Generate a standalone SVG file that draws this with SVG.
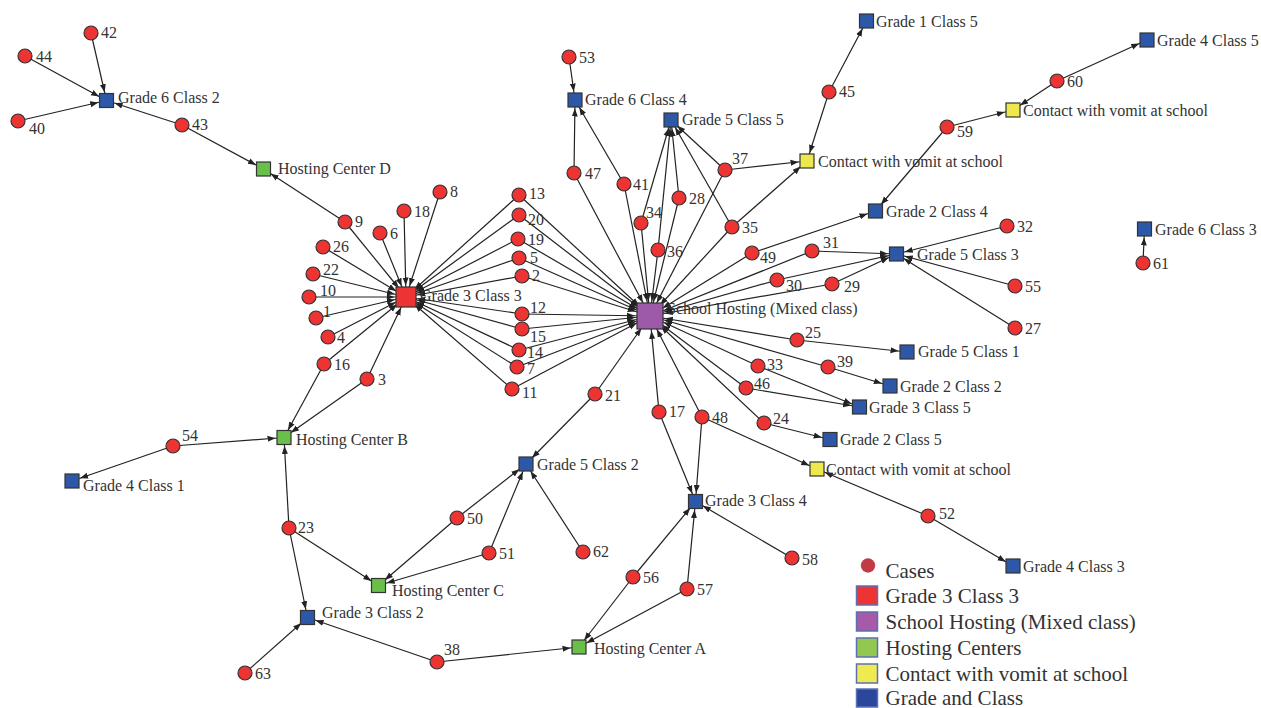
<svg xmlns="http://www.w3.org/2000/svg" width="1261" height="708" viewBox="0 0 1261 708">
<style>
text{font-family:"Liberation Serif","Times New Roman",serif;font-size:16px;fill:#333}
.c{fill:#ee3333;stroke:#333;stroke-width:1.2}
.b{fill:#2d58a7;stroke:#333;stroke-width:1.2}
.gr{fill:#6abf4b;stroke:#333;stroke-width:1.2}
.y{fill:#ece84e;stroke:#333;stroke-width:1.2}
.r{fill:#ee3333;stroke:#333;stroke-width:1.2}
.p{fill:#9c5aa8;stroke:#333;stroke-width:1.2}
#connectors line{stroke:#222;stroke-width:1.2;fill:none}
.s{marker-end:url(#m1)}
.g{marker-end:url(#m2)}
.h{marker-end:url(#m3)}
.lg text{font-size:21px}
.lb{stroke:#5b70b4;stroke-width:1.5}
</style>
<defs>
<marker id="m1" viewBox="0 0 30 8" refX="16.5" refY="4" markerWidth="30" markerHeight="8" orient="auto" markerUnits="userSpaceOnUse"><path d="M0,1 L8,4 L0,7 z" fill="#222"/></marker>
<marker id="m2" viewBox="0 0 30 8" refX="19.5" refY="4" markerWidth="30" markerHeight="8" orient="auto" markerUnits="userSpaceOnUse"><path d="M0,1 L8,4 L0,7 z" fill="#222"/></marker>
<marker id="m3" viewBox="0 0 30 8" refX="23" refY="4" markerWidth="30" markerHeight="8" orient="auto" markerUnits="userSpaceOnUse"><path d="M0,1 L8,4 L0,7 z" fill="#222"/></marker>
</defs>
<rect width="1261" height="708" fill="#fff"/>
<g id="connectors">
<line class="s" x1="91" y1="33" x2="106.5" y2="100.5"/>
<line class="s" x1="25" y1="56" x2="106.5" y2="100.5"/>
<line class="s" x1="18" y1="121" x2="106.5" y2="100.5"/>
<line class="s" x1="182" y1="125" x2="106.5" y2="100.5"/>
<line class="s" x1="182" y1="125" x2="263.5" y2="169"/>
<line class="s" x1="345" y1="222" x2="263.5" y2="169"/>
<line class="g" x1="345" y1="222" x2="406" y2="297"/>
<line class="g" x1="404" y1="211" x2="406" y2="297"/>
<line class="g" x1="440" y1="192" x2="406" y2="297"/>
<line class="g" x1="380" y1="233" x2="406" y2="297"/>
<line class="g" x1="323" y1="247" x2="406" y2="297"/>
<line class="g" x1="313" y1="274" x2="406" y2="297"/>
<line class="g" x1="309" y1="297" x2="406" y2="297"/>
<line class="g" x1="316" y1="318" x2="406" y2="297"/>
<line class="g" x1="328" y1="337" x2="406" y2="297"/>
<line class="g" x1="324" y1="364" x2="406" y2="297"/>
<line class="g" x1="367" y1="379" x2="406" y2="297"/>
<line class="g" x1="519" y1="195" x2="406" y2="297"/>
<line class="g" x1="519" y1="215" x2="406" y2="297"/>
<line class="g" x1="518" y1="239" x2="406" y2="297"/>
<line class="g" x1="519" y1="258" x2="406" y2="297"/>
<line class="g" x1="522" y1="276" x2="406" y2="297"/>
<line class="g" x1="522" y1="314" x2="406" y2="297"/>
<line class="g" x1="522" y1="329" x2="406" y2="297"/>
<line class="g" x1="519" y1="350" x2="406" y2="297"/>
<line class="g" x1="517" y1="367" x2="406" y2="297"/>
<line class="g" x1="512" y1="389" x2="406" y2="297"/>
<line class="h" x1="519" y1="195" x2="650" y2="316"/>
<line class="h" x1="519" y1="215" x2="650" y2="316"/>
<line class="h" x1="518" y1="239" x2="650" y2="316"/>
<line class="h" x1="519" y1="258" x2="650" y2="316"/>
<line class="h" x1="522" y1="276" x2="650" y2="316"/>
<line class="h" x1="522" y1="314" x2="650" y2="316"/>
<line class="h" x1="522" y1="329" x2="650" y2="316"/>
<line class="h" x1="519" y1="350" x2="650" y2="316"/>
<line class="h" x1="517" y1="367" x2="650" y2="316"/>
<line class="h" x1="512" y1="389" x2="650" y2="316"/>
<line class="h" x1="574" y1="173" x2="650" y2="316"/>
<line class="h" x1="624" y1="184" x2="650" y2="316"/>
<line class="h" x1="641" y1="223" x2="650" y2="316"/>
<line class="h" x1="658" y1="250" x2="650" y2="316"/>
<line class="h" x1="679" y1="198" x2="650" y2="316"/>
<line class="h" x1="725" y1="170" x2="650" y2="316"/>
<line class="h" x1="732" y1="227" x2="650" y2="316"/>
<line class="h" x1="752" y1="253" x2="650" y2="316"/>
<line class="h" x1="812" y1="251" x2="650" y2="316"/>
<line class="h" x1="777" y1="280" x2="650" y2="316"/>
<line class="h" x1="832" y1="284" x2="650" y2="316"/>
<line class="h" x1="797" y1="340" x2="650" y2="316"/>
<line class="h" x1="828" y1="367" x2="650" y2="316"/>
<line class="h" x1="758" y1="366" x2="650" y2="316"/>
<line class="h" x1="746" y1="388" x2="650" y2="316"/>
<line class="h" x1="764" y1="423" x2="650" y2="316"/>
<line class="h" x1="702" y1="417" x2="650" y2="316"/>
<line class="h" x1="659" y1="412" x2="650" y2="316"/>
<line class="h" x1="595" y1="394" x2="650" y2="316"/>
<line class="s" x1="569" y1="57" x2="575" y2="100"/>
<line class="s" x1="574" y1="173" x2="575" y2="100"/>
<line class="s" x1="624" y1="184" x2="575" y2="100"/>
<line class="s" x1="641" y1="223" x2="671" y2="120"/>
<line class="s" x1="658" y1="250" x2="671" y2="120"/>
<line class="s" x1="679" y1="198" x2="671" y2="120"/>
<line class="s" x1="725" y1="170" x2="671" y2="120"/>
<line class="s" x1="732" y1="227" x2="671" y2="120"/>
<line class="s" x1="725" y1="170" x2="807" y2="161"/>
<line class="s" x1="732" y1="227" x2="807" y2="161"/>
<line class="s" x1="829" y1="92" x2="807" y2="161"/>
<line class="s" x1="829" y1="92" x2="866.5" y2="21"/>
<line class="s" x1="947" y1="127" x2="1013" y2="110"/>
<line class="s" x1="1057" y1="81" x2="1013" y2="110"/>
<line class="s" x1="1057" y1="81" x2="1147" y2="40"/>
<line class="s" x1="752" y1="253" x2="875.5" y2="211"/>
<line class="s" x1="947" y1="127" x2="875.5" y2="211"/>
<line class="s" x1="812" y1="251" x2="896.5" y2="254"/>
<line class="s" x1="777" y1="280" x2="896.5" y2="254"/>
<line class="s" x1="832" y1="284" x2="896.5" y2="254"/>
<line class="s" x1="1007" y1="226" x2="896.5" y2="254"/>
<line class="s" x1="1015" y1="286" x2="896.5" y2="254"/>
<line class="s" x1="1015" y1="328" x2="896.5" y2="254"/>
<line class="s" x1="1143" y1="263" x2="1144.5" y2="229"/>
<line class="s" x1="797" y1="340" x2="907" y2="352"/>
<line class="s" x1="828" y1="367" x2="890" y2="386"/>
<line class="s" x1="758" y1="366" x2="859.5" y2="407"/>
<line class="s" x1="746" y1="388" x2="859.5" y2="407"/>
<line class="s" x1="764" y1="423" x2="830" y2="439.5"/>
<line class="s" x1="702" y1="417" x2="817" y2="469"/>
<line class="s" x1="928" y1="516" x2="817" y2="469"/>
<line class="s" x1="928" y1="516" x2="1013" y2="566"/>
<line class="s" x1="702" y1="417" x2="695.5" y2="501.5"/>
<line class="s" x1="659" y1="412" x2="695.5" y2="501.5"/>
<line class="s" x1="633" y1="577" x2="695.5" y2="501.5"/>
<line class="s" x1="687" y1="589" x2="695.5" y2="501.5"/>
<line class="s" x1="792" y1="558" x2="695.5" y2="501.5"/>
<line class="s" x1="595" y1="394" x2="526" y2="464"/>
<line class="s" x1="457" y1="518" x2="526" y2="464"/>
<line class="s" x1="489" y1="553" x2="526" y2="464"/>
<line class="s" x1="583" y1="552" x2="526" y2="464"/>
<line class="s" x1="324" y1="364" x2="284" y2="437.5"/>
<line class="s" x1="367" y1="379" x2="284" y2="437.5"/>
<line class="s" x1="173" y1="446" x2="284" y2="437.5"/>
<line class="s" x1="289" y1="528" x2="284" y2="437.5"/>
<line class="s" x1="173" y1="446" x2="72" y2="481"/>
<line class="s" x1="289" y1="528" x2="378.5" y2="585.5"/>
<line class="s" x1="457" y1="518" x2="378.5" y2="585.5"/>
<line class="s" x1="489" y1="553" x2="378.5" y2="585.5"/>
<line class="s" x1="289" y1="528" x2="307.5" y2="617.5"/>
<line class="s" x1="437" y1="662" x2="307.5" y2="617.5"/>
<line class="s" x1="245" y1="673" x2="307.5" y2="617.5"/>
<line class="s" x1="437" y1="662" x2="579" y2="647"/>
<line class="s" x1="633" y1="577" x2="579" y2="647"/>
<line class="s" x1="687" y1="589" x2="579" y2="647"/>
</g>
<g id="n-g6c2"><rect class="b" x="99.5" y="93.5" width="14" height="14"/><text x="118" y="103">Grade 6 Class 2</text></g>
<g id="n-hcd"><rect class="gr" x="256.5" y="162" width="14" height="14"/><text x="278" y="174">Hosting Center D</text></g>
<g id="n-g3c3"><rect class="r" x="396" y="287" width="20" height="20"/><text x="420" y="301">Grade 3 Class 3</text></g>
<g id="n-sh"><rect class="p" x="637" y="303" width="26" height="26"/><text x="667" y="314">School Hosting (Mixed class)</text></g>
<g id="n-g6c4"><rect class="b" x="568" y="93" width="14" height="14"/><text x="585" y="105">Grade 6 Class 4</text></g>
<g id="n-g5c5"><rect class="b" x="664" y="113" width="14" height="14"/><text x="682" y="125">Grade 5 Class 5</text></g>
<g id="n-g1c5"><rect class="b" x="859.5" y="14" width="14" height="14"/><text x="876" y="27">Grade 1 Class 5</text></g>
<g id="n-cv1"><rect class="y" x="800" y="154" width="14" height="14"/><text x="818" y="167">Contact with vomit at school</text></g>
<g id="n-cv2"><rect class="y" x="1006" y="103" width="14" height="14"/><text x="1023" y="116">Contact with vomit at school</text></g>
<g id="n-g4c5"><rect class="b" x="1140" y="33" width="14" height="14"/><text x="1157" y="46">Grade 4 Class 5</text></g>
<g id="n-g2c4"><rect class="b" x="868.5" y="204" width="14" height="14"/><text x="886" y="217">Grade 2 Class 4</text></g>
<g id="n-g5c3"><rect class="b" x="889.5" y="247" width="14" height="14"/><text x="917" y="260">Grade 5 Class 3</text></g>
<g id="n-g6c3"><rect class="b" x="1137.5" y="222" width="14" height="14"/><text x="1155" y="235">Grade 6 Class 3</text></g>
<g id="n-g5c1"><rect class="b" x="900" y="345" width="14" height="14"/><text x="918" y="357">Grade 5 Class 1</text></g>
<g id="n-g2c2"><rect class="b" x="883" y="379" width="14" height="14"/><text x="900" y="392">Grade 2 Class 2</text></g>
<g id="n-g3c5"><rect class="b" x="852.5" y="400" width="14" height="14"/><text x="869" y="413">Grade 3 Class 5</text></g>
<g id="n-g2c5"><rect class="b" x="823" y="432.5" width="14" height="14"/><text x="840" y="445">Grade 2 Class 5</text></g>
<g id="n-cv3"><rect class="y" x="810" y="462" width="14" height="14"/><text x="826" y="475">Contact with vomit at school</text></g>
<g id="n-g3c4"><rect class="b" x="688.5" y="494.5" width="14" height="14"/><text x="705" y="506">Grade 3 Class 4</text></g>
<g id="n-g5c2"><rect class="b" x="519" y="457" width="14" height="14"/><text x="537" y="470">Grade 5 Class 2</text></g>
<g id="n-hcb"><rect class="gr" x="277" y="430.5" width="14" height="14"/><text x="296" y="445">Hosting Center B</text></g>
<g id="n-g4c1"><rect class="b" x="65" y="474" width="14" height="14"/><text x="83" y="491">Grade 4 Class 1</text></g>
<g id="n-hcc"><rect class="gr" x="371.5" y="578.5" width="14" height="14"/><text x="392" y="596">Hosting Center C</text></g>
<g id="n-g3c2"><rect class="b" x="300.5" y="610.5" width="14" height="14"/><text x="322" y="618">Grade 3 Class 2</text></g>
<g id="n-hca"><rect class="gr" x="572" y="640" width="14" height="14"/><text x="594" y="654">Hosting Center A</text></g>
<g id="n-g4c3"><rect class="b" x="1006" y="559" width="14" height="14"/><text x="1023" y="572">Grade 4 Class 3</text></g>
<g id="c1"><circle class="c" cx="316" cy="318" r="7"/><text x="323" y="317">1</text></g>
<g id="c2"><circle class="c" cx="522" cy="276" r="7"/><text x="532" y="281">2</text></g>
<g id="c3"><circle class="c" cx="367" cy="379" r="7"/><text x="378" y="385">3</text></g>
<g id="c4"><circle class="c" cx="328" cy="337" r="7"/><text x="337" y="343">4</text></g>
<g id="c5"><circle class="c" cx="519" cy="258" r="7"/><text x="530" y="263">5</text></g>
<g id="c6"><circle class="c" cx="380" cy="233" r="7"/><text x="390" y="239">6</text></g>
<g id="c7"><circle class="c" cx="517" cy="367" r="7"/><text x="527" y="374">7</text></g>
<g id="c8"><circle class="c" cx="440" cy="192" r="7"/><text x="450" y="197">8</text></g>
<g id="c9"><circle class="c" cx="345" cy="222" r="7"/><text x="355" y="227">9</text></g>
<g id="c10"><circle class="c" cx="309" cy="297" r="7"/><text x="320" y="296">10</text></g>
<g id="c11"><circle class="c" cx="512" cy="389" r="7"/><text x="522" y="398">11</text></g>
<g id="c12"><circle class="c" cx="522" cy="314" r="7"/><text x="530" y="313">12</text></g>
<g id="c13"><circle class="c" cx="519" cy="195" r="7"/><text x="529" y="199">13</text></g>
<g id="c14"><circle class="c" cx="519" cy="350" r="7"/><text x="527" y="358">14</text></g>
<g id="c15"><circle class="c" cx="522" cy="329" r="7"/><text x="530" y="342">15</text></g>
<g id="c16"><circle class="c" cx="324" cy="364" r="7"/><text x="334" y="370">16</text></g>
<g id="c17"><circle class="c" cx="659" cy="412" r="7"/><text x="669" y="417">17</text></g>
<g id="c18"><circle class="c" cx="404" cy="211" r="7"/><text x="414" y="217">18</text></g>
<g id="c19"><circle class="c" cx="518" cy="239" r="7"/><text x="528" y="245">19</text></g>
<g id="c20"><circle class="c" cx="519" cy="215" r="7"/><text x="528" y="225">20</text></g>
<g id="c21"><circle class="c" cx="595" cy="394" r="7"/><text x="605" y="401">21</text></g>
<g id="c22"><circle class="c" cx="313" cy="274" r="7"/><text x="323" y="275">22</text></g>
<g id="c23"><circle class="c" cx="289" cy="528" r="7"/><text x="298" y="533">23</text></g>
<g id="c24"><circle class="c" cx="764" cy="423" r="7"/><text x="773" y="424">24</text></g>
<g id="c25"><circle class="c" cx="797" cy="340" r="7"/><text x="805" y="338">25</text></g>
<g id="c26"><circle class="c" cx="323" cy="247" r="7"/><text x="333" y="252">26</text></g>
<g id="c27"><circle class="c" cx="1015" cy="328" r="7"/><text x="1025" y="334">27</text></g>
<g id="c28"><circle class="c" cx="679" cy="198" r="7"/><text x="689" y="204">28</text></g>
<g id="c29"><circle class="c" cx="832" cy="284" r="7"/><text x="844" y="292">29</text></g>
<g id="c30"><circle class="c" cx="777" cy="280" r="7"/><text x="786" y="291">30</text></g>
<g id="c31"><circle class="c" cx="812" cy="251" r="7"/><text x="823" y="248">31</text></g>
<g id="c32"><circle class="c" cx="1007" cy="226" r="7"/><text x="1017" y="232">32</text></g>
<g id="c33"><circle class="c" cx="758" cy="366" r="7"/><text x="767" y="370">33</text></g>
<g id="c34"><circle class="c" cx="641" cy="223" r="7"/><text x="646" y="218">34</text></g>
<g id="c35"><circle class="c" cx="732" cy="227" r="7"/><text x="742" y="233">35</text></g>
<g id="c36"><circle class="c" cx="658" cy="250" r="7"/><text x="667" y="257">36</text></g>
<g id="c37"><circle class="c" cx="725" cy="170" r="7"/><text x="732" y="164">37</text></g>
<g id="c38"><circle class="c" cx="437" cy="662" r="7"/><text x="444" y="655">38</text></g>
<g id="c39"><circle class="c" cx="828" cy="367" r="7"/><text x="837" y="367">39</text></g>
<g id="c40"><circle class="c" cx="18" cy="121" r="7"/><text x="29" y="134">40</text></g>
<g id="c41"><circle class="c" cx="624" cy="184" r="7"/><text x="633" y="190">41</text></g>
<g id="c42"><circle class="c" cx="91" cy="33" r="7"/><text x="101" y="38">42</text></g>
<g id="c43"><circle class="c" cx="182" cy="125" r="7"/><text x="192" y="130">43</text></g>
<g id="c44"><circle class="c" cx="25" cy="56" r="7"/><text x="36" y="62">44</text></g>
<g id="c45"><circle class="c" cx="829" cy="92" r="7"/><text x="839" y="97">45</text></g>
<g id="c46"><circle class="c" cx="746" cy="388" r="7"/><text x="754" y="389">46</text></g>
<g id="c47"><circle class="c" cx="574" cy="173" r="7"/><text x="585" y="179">47</text></g>
<g id="c48"><circle class="c" cx="702" cy="417" r="7"/><text x="712" y="423">48</text></g>
<g id="c49"><circle class="c" cx="752" cy="253" r="7"/><text x="760" y="263">49</text></g>
<g id="c50"><circle class="c" cx="457" cy="518" r="7"/><text x="467" y="524">50</text></g>
<g id="c51"><circle class="c" cx="489" cy="553" r="7"/><text x="499" y="559">51</text></g>
<g id="c52"><circle class="c" cx="928" cy="516" r="7"/><text x="939" y="519">52</text></g>
<g id="c53"><circle class="c" cx="569" cy="57" r="7"/><text x="579" y="63">53</text></g>
<g id="c54"><circle class="c" cx="173" cy="446" r="7"/><text x="182" y="441">54</text></g>
<g id="c55"><circle class="c" cx="1015" cy="286" r="7"/><text x="1025" y="292">55</text></g>
<g id="c56"><circle class="c" cx="633" cy="577" r="7"/><text x="643" y="583">56</text></g>
<g id="c57"><circle class="c" cx="687" cy="589" r="7"/><text x="697" y="595">57</text></g>
<g id="c58"><circle class="c" cx="792" cy="558" r="7"/><text x="802" y="565">58</text></g>
<g id="c59"><circle class="c" cx="947" cy="127" r="7"/><text x="957" y="137">59</text></g>
<g id="c60"><circle class="c" cx="1057" cy="81" r="7"/><text x="1067" y="87">60</text></g>
<g id="c61"><circle class="c" cx="1143" cy="263" r="7"/><text x="1153" y="269">61</text></g>
<g id="c62"><circle class="c" cx="583" cy="552" r="7"/><text x="593" y="557">62</text></g>
<g id="c63"><circle class="c" cx="245" cy="673" r="7"/><text x="255" y="679">63</text></g>
<g id="legend" class="lg">
<circle cx="868" cy="565.5" r="7.2" fill="#c23a44"/><text x="885.5" y="578">Cases</text>
<rect class="lb" x="856.5" y="586" width="21" height="19" fill="#ee3333"/><text x="885.5" y="603">Grade 3 Class 3</text>
<rect class="lb" x="856.5" y="612" width="21" height="19" fill="#a65aa8"/><text x="885.5" y="629">School Hosting (Mixed class)</text>
<rect class="lb" x="856.5" y="638" width="21" height="19" fill="#92c850"/><text x="885.5" y="655">Hosting Centers</text>
<rect class="lb" x="856.5" y="664" width="21" height="19" fill="#eeea50"/><text x="885.5" y="681">Contact with vomit at school</text>
<rect class="lb" x="856.5" y="689" width="21" height="18" fill="#2b479b"/><text x="885.5" y="705">Grade and Class</text>
</g>
</svg>
